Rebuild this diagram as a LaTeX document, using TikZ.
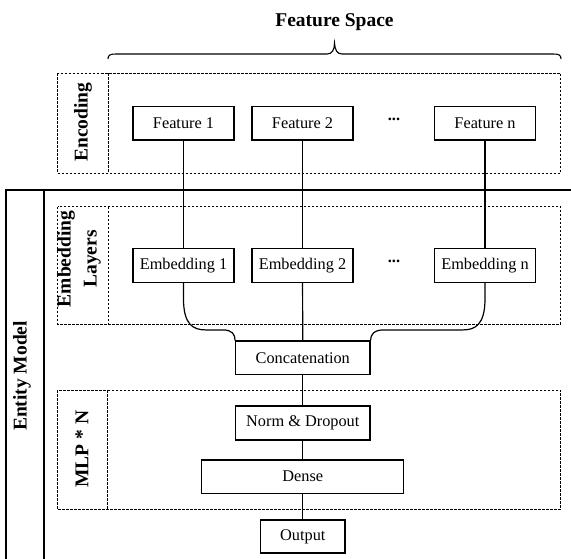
\documentclass[tikz,border=0pt]{standalone}
\usepackage{fontspec}
\setmainfont{Liberation Serif}
\begin{document}
\begin{tikzpicture}[x=1pt,y=1pt,
  box/.style={draw, line width=1.2pt, inner sep=0pt, fill=white, font=\fontsize{16.3}{19}\selectfont},
  lbl/.style={font=\fontsize{19.5}{26}\selectfont\bfseries, inner sep=0pt, align=center},
  dots/.style={font=\fontsize{16.3}{19}\selectfont\bfseries, inner sep=0pt, anchor=base},
  grp/.style={draw, dash pattern=on 2.5pt off 1.5pt, line width=0.7pt},
  conn/.style={line width=1.2pt},
  frame/.style={line width=1.6pt}]
\useasboundingbox (0,0) rectangle (571,-559);

% Entity model frame
\draw[frame] (580,-190) -- (6,-190) -- (6,-570);
\draw[frame] (44,-190) -- (44,-570);
\node[lbl, rotate=90] (entlbl) at (22,-376) {Entity Model};

% Title and brace
\node[lbl, anchor=base] (title) at (334.5,-26.5) {Feature Space};
\draw[line width=1.1pt] (108,-59) .. controls (108,-55) and (110,-54) .. (116,-54) -- (327,-54)
  .. controls (332,-54) and (334.5,-50) .. (334.5,-43)
  .. controls (335,-50) and (337,-54) .. (342,-54) -- (553,-54)
  .. controls (559,-54) and (561,-55) .. (561,-59);

% Group boxes
\draw[grp] (57.5,-73.3) rectangle (560.5,-173.3);
\draw[grp] (108,-73.3) -- (108,-173.3);
\draw[grp] (57.5,-206.7) rectangle (560.5,-324);
\draw[grp] (108,-206.7) -- (108,-324);
\draw[grp] (57,-390) rectangle (560.5,-509);
\draw[grp] (107.5,-390) -- (107.5,-509);

\node[lbl, rotate=90] (enclbl) at (83,-122) {Encoding};
\node[lbl, rotate=90] (emblbl) at (79,-259) {Embedding\\Layers};
\node[lbl, rotate=90] (mlplbl) at (82,-449) {MLP * N};

% Feature nodes
\node[box, minimum width=101pt, minimum height=33.5pt] (f1) at (183.5,-123.3) {Feature 1};
\node[box, minimum width=101pt, minimum height=33.5pt] (f2) at (302.5,-123.3) {Feature 2};
\node[dots] (fd) at (394,-121) {...};
\node[box, minimum width=101pt, minimum height=33.5pt] (fn) at (485,-123.3) {Feature n};

% Embedding nodes
\node[box, minimum width=101pt, minimum height=34pt] (e1) at (183.5,-265.3) {Embedding 1};
\node[box, minimum width=101pt, minimum height=34pt] (e2) at (302.5,-265.3) {Embedding 2};
\node[dots] (ed) at (394,-262) {...};
\node[box, minimum width=101pt, minimum height=34pt] (en) at (485,-265.3) {Embedding n};

% Lower stack
\node[box, minimum width=134.3pt, minimum height=33.3pt] (cat) at (302.8,-357.7) {Concatenation};
\node[box, minimum width=134.3pt, minimum height=34pt] (norm) at (302.8,-423) {Norm \& Dropout};
\node[box, minimum width=202pt, minimum height=33.3pt] (dense) at (302.8,-476.7) {Dense};
\node[box, minimum width=84.3pt, minimum height=33pt] (out) at (302.8,-536.5) {Output};

% Connectors
\draw[conn] (f1) -- (e1);
\draw[conn] (f2) -- (e2);
\draw[conn] (fn) -- (en);
\draw[conn] (e2) -- (cat);
\draw[conn] (e1.south) -- ++(0,-16) .. controls +(0,-26) and +(-12,0) .. ++(22,-31)
  -- ++(17,0) .. controls +(10,0) and +(0,6) .. (cat.north west);
\draw[conn] (en.south) -- ++(0,-16) .. controls +(0,-26) and +(12,0) .. ++(-22,-31)
  -- ++(-79,0) .. controls +(-10,0) and +(0,6) .. (cat.north east);
\draw[conn] (cat) -- (norm);
\draw[conn] (norm) -- (dense);
\draw[conn] (dense) -- (out);
\end{tikzpicture}
\end{document}
